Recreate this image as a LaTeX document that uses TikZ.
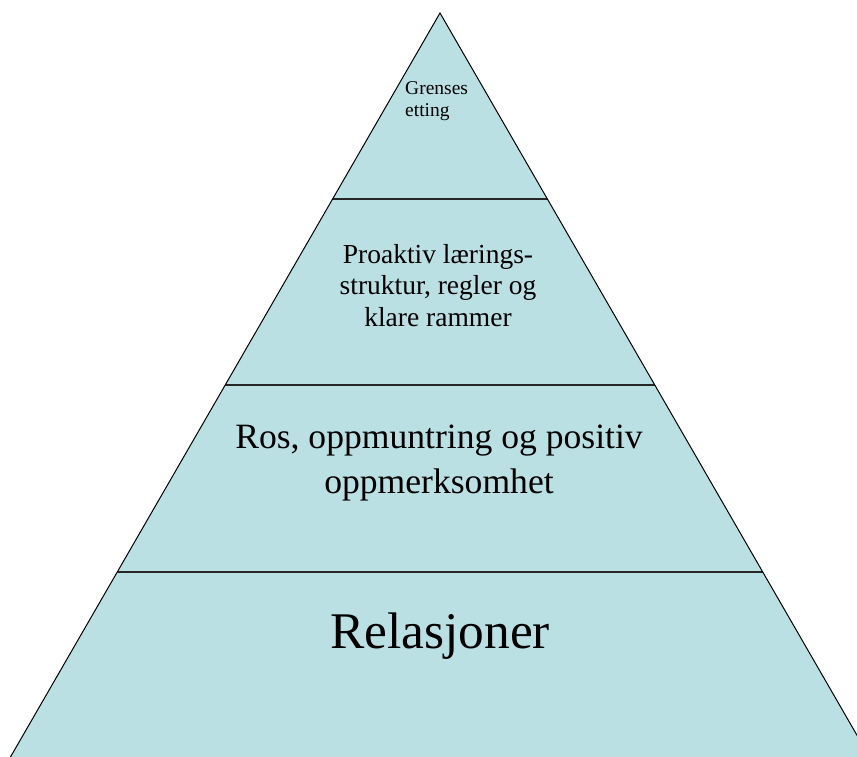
\documentclass[tikz,border=0pt]{standalone}
\usepackage{fontspec}
\setmainfont{Liberation Serif}
\definecolor{pyrfill}{RGB}{187,224,227}
\tikzset{
  lbl/.style={inner sep=0pt, anchor=base, text=black},
  divider/.style={draw=black!85, line width=1.8pt},
  edge/.style={draw=black, line width=1pt}
}
\begin{document}
\begin{tikzpicture}[x=1pt,y=1pt]
\useasboundingbox (0,0) rectangle (857,756);
\clip (0,0) rectangle (857,756);
\coordinate (apex) at (440,743);
\coordinate (bl) at (9.3,-3);
\coordinate (br) at (870.7,-3);
\fill[pyrfill] (apex) -- (bl) -- (br) -- cycle;
% dividers
\coordinate (d1l) at (332.6,557); \coordinate (d1r) at (547.4,557);
\coordinate (d2l) at (225.2,371); \coordinate (d2r) at (654.8,371);
\coordinate (d3l) at (117.2,184); \coordinate (d3r) at (762.8,184);
\draw[divider] (d1l) -- (d1r);
\draw[divider] (d2l) -- (d2r);
\draw[divider] (d3l) -- (d3r);
\draw[edge] (bl) -- (apex) -- (br);
% texts
\node[lbl, anchor=base west, font=\fontsize{19.5}{22}\selectfont] (g1) at (405,661) {Grenses};
\node[lbl, anchor=base west, font=\fontsize{19.5}{22}\selectfont] (g2) at (405,639) {etting};
\node[lbl, font=\fontsize{27.5}{31}\selectfont] (p1) at (438,492) {Proaktiv lærings-};
\node[lbl, font=\fontsize{27.5}{31}\selectfont] (p2) at (438,461) {struktur, regler og};
\node[lbl, font=\fontsize{27.5}{31}\selectfont] (p3) at (438,429) {klare rammer};
\node[lbl, font=\fontsize{35.6}{42}\selectfont] (r1) at (439,307) {Ros, oppmuntring og positiv};
\node[lbl, font=\fontsize{35.6}{42}\selectfont] (r2) at (439,262) {oppmerksomhet};
\node[lbl, font=\fontsize{51.4}{60}\selectfont] (rel) at (440,108) {Relasjoner};
\end{tikzpicture}
\end{document}
